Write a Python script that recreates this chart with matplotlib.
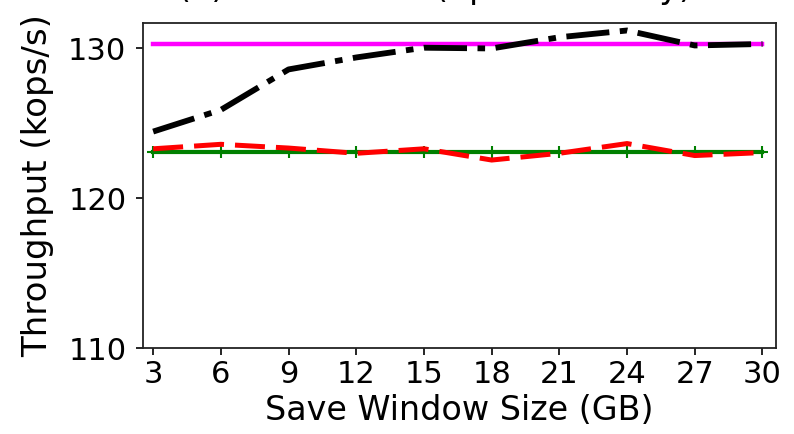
import matplotlib
matplotlib.use('Agg')
import matplotlib.pyplot as plt

# save window size (GB)
window_gb = [3, 6, 9, 12, 15, 18, 21, 24, 27, 30]
# throughput (kops/s)
magenta_kops = [130.33] * 10
black_kops = [124.45, 125.9, 128.6, 129.4, 130.05, 130.0, 130.75, 131.2, 130.2, 130.3]
red_kops = [123.3, 123.6, 123.35, 123.0, 123.3, 122.55, 123.0, 123.65, 122.85, 123.05]
green_kops = [123.1] * 10

yticks = [110, 120, 130]

fig = plt.figure(figsize=(7.94, 4.34), dpi=100)
ax = fig.add_axes([143 / 794, 1 - 348 / 434, (776 - 143) / 794, (348 - 23) / 434])

ax.plot(window_gb, magenta_kops, color='magenta', linestyle='-', linewidth=3.2)
ax.plot(window_gb, black_kops, color='black', linewidth=4.2,
        dashes=(7.4, 1.8, 1.3, 1.8))
ax.plot(window_gb, green_kops, color='green', linestyle='-', linewidth=3.0,
        marker='+', markersize=8, markeredgewidth=1.5)
ax.plot(window_gb, red_kops, color='red', linewidth=3.6, dashes=(6.0, 2.2))

ax.set_xlim(2.55, 30.6)
ax.set_ylim(110, 131.7)
ax.set_xticks(window_gb)
ax.set_yticks(yticks)
ax.tick_params(labelsize=22, length=5, width=1.2)
ax.tick_params(axis='y', pad=7)
ax.set_xlabel('Save Window Size (GB)', fontsize=24, labelpad=4)
ax.set_ylabel('Throughput (kops/s)', fontsize=24.5, labelpad=10)
for s in ax.spines.values():
    s.set_linewidth(1.3)
    s.set_color('#222222')

# title sits mostly above the figure edge, only its bottom is visible
fig.text(0.548, 1.0 - 5 / 434, '(a) Workload A (update-heavy)', fontsize=24,
         ha='center', va='bottom')

fig.savefig('out.png', dpi=100)
